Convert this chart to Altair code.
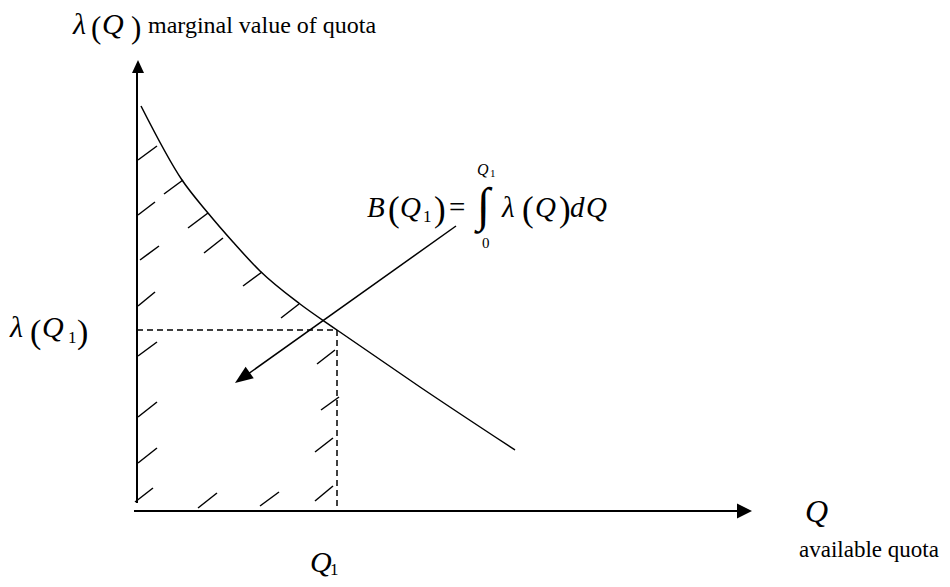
import math
import altair as alt
import pandas as pd

# ---- diagram data (units: Q along x, lambda along y; origin at axes crossing) ----
curve_q = [4, 45, 71, 96, 123, 163, 200, 283, 378]
curve_lam = [405, 331, 298, 269, 240, 207, 181, 124, 61]

Q1 = 200
LAM_Q1 = 181

hatch_x1 = [1, 27, 1, 51, 3, 67, 106, 1, 144, 1, 180, 1, 184, 1, 178, -2, 61, 123, 178]
hatch_y1 = [351, 317, 296, 283, 251, 258, 225, 205, 193, 155, 147, 94, 101, 48, 59, 9, 3, 5, 10]
hatch_x2 = [20, 46, 18, 71, 22, 86, 125, 18, 162, 20, 198, 20, 202, 20, 196, 16, 80, 142, 196]
hatch_y2 = [365, 331, 309, 298, 265, 273, 239, 219, 207, 169, 161, 109, 114, 63, 73, 23, 18, 19, 25]

# axes and pointer arrow (start / end points)
axis_x1 = [0, -3]
axis_y1 = [8, 0]
axis_x2 = [0, 600]
axis_y2 = [438, 0]

pointer_start = (319, 285)
pointer_tip = (98, 128)

xs = alt.Scale(domain=[-129, 805], nice=False, zero=False)
ys = alt.Scale(domain=[-68, 503], nice=False, zero=False)


def X(f):
    return alt.X(f, type="quantitative", scale=xs, axis=None)


def Y(f):
    return alt.Y(f, type="quantitative", scale=ys, axis=None)


curve_df = pd.DataFrame({"q": curve_q, "lam": curve_lam})
curve = alt.Chart(curve_df).mark_line(
    interpolate="monotone", color="black", strokeWidth=1.5
).encode(x=X("q"), y=Y("lam"))

hatch_df = pd.DataFrame({"x": hatch_x1, "y": hatch_y1, "x2": hatch_x2, "y2": hatch_y2})
hatches = alt.Chart(hatch_df).mark_rule(color="black", strokeWidth=1.5).encode(
    x=X("x"), y=Y("y"), x2="x2", y2="y2"
)

axes_df = pd.DataFrame({"x": axis_x1, "y": axis_y1, "x2": axis_x2, "y2": axis_y2})
axes = alt.Chart(axes_df).mark_rule(color="black", strokeWidth=2).encode(
    x=X("x"), y=Y("y"), x2="x2", y2="y2"
)

dash_df = pd.DataFrame({"x": [0, Q1], "y": [LAM_Q1, LAM_Q1], "x2": [Q1, Q1], "y2": [LAM_Q1, 1]})
dashes = alt.Chart(dash_df).mark_rule(
    color="black", strokeWidth=1.5, strokeDash=[6, 4]
).encode(x=X("x"), y=Y("y"), x2="x2", y2="y2")

ptr_df = pd.DataFrame({"x": [pointer_start[0]], "y": [pointer_start[1]],
                       "x2": [pointer_tip[0] + 6], "y2": [pointer_tip[1] + 4]})
pointer = alt.Chart(ptr_df).mark_rule(color="black", strokeWidth=1.5).encode(
    x=X("x"), y=Y("y"), x2="x2", y2="y2"
)

# arrowheads
dx = pointer_tip[0] - pointer_start[0]
dy = -(pointer_tip[1] - pointer_start[1])  # screen y points down
ang = math.degrees(math.atan2(dx, -dy)) % 360


def head(x, y, angle, path):
    df = pd.DataFrame({"x": [x], "y": [y], "a": [angle]})
    return alt.Chart(df).mark_point(
        shape=path, size=4, filled=True, color="black", opacity=1, strokeWidth=0
    ).encode(x=X("x"), y=Y("y"), angle=alt.Angle("a:Q", scale=None))


heads = [
    head(1, 451, 0, "M0,0L-6,13L6,13Z"),
    head(615, 0, 90, "M0,0L-7.5,15L7.5,15Z"),
    head(pointer_tip[0], pointer_tip[1], ang, "M0,0L-7,18L7,18Z"),
]

# ---- labels ----
ital_text = ["λ", "Q", "λ", "Q", "Q", "Q", "B", "Q", "Q", "λ", "Q", "d", "Q"]
ital_x = [-64, -35, -127, -95, 173, 668, 230, 263, 340, 365, 398, 433, 449]
ital_y = [477, 477, 174, 174, -61, -11, 294, 294, 336, 294, 294, 294, 294]
ital_size = [30, 30, 30, 30, 30, 32, 29, 29, 16, 29, 29, 29, 29]

up_text = ["(", ")", "marginal value of quota", "(", "1", ")", "1", "available quota",
           "(", "1", ")", "=", "∫", "1", "0", "(", ")"]
up_x = [-46, -6, 11, -107, -69, -60, 193, 662, 251, 286, 297, 312, 340, 353, 345, 385, 422]
up_y = [473, 473, 478, 168, 168, 168, -64, -46, 290, 289, 290, 294, 290, 334, 263, 290, 290]
up_size = [31, 31, 24, 34, 17, 34, 17, 23, 35, 17, 35, 29, 48, 11, 15, 35, 35]

ital_df = pd.DataFrame({"x": ital_x, "y": ital_y, "t": ital_text, "s": ital_size})
up_df = pd.DataFrame({"x": up_x, "y": up_y, "t": up_text, "s": up_size})

ital = alt.Chart(ital_df).mark_text(
    font="Liberation Serif", fontStyle="italic", align="left", baseline="alphabetic", color="black"
).encode(x=X("x"), y=Y("y"), text="t:N", size=alt.Size("s:Q", scale=None))

up = alt.Chart(up_df).mark_text(
    font="Liberation Serif", align="left", baseline="alphabetic", color="black"
).encode(x=X("x"), y=Y("y"), text="t:N", size=alt.Size("s:Q", scale=None))

chart = alt.layer(
    hatches, dashes, curve, pointer, axes, *heads, ital, up
).properties(
    width=934, height=571, padding=0, autosize="none", background="white"
).configure_view(stroke=None)

chart.save("out.html", embed_options={"renderer": "svg", "actions": False})
